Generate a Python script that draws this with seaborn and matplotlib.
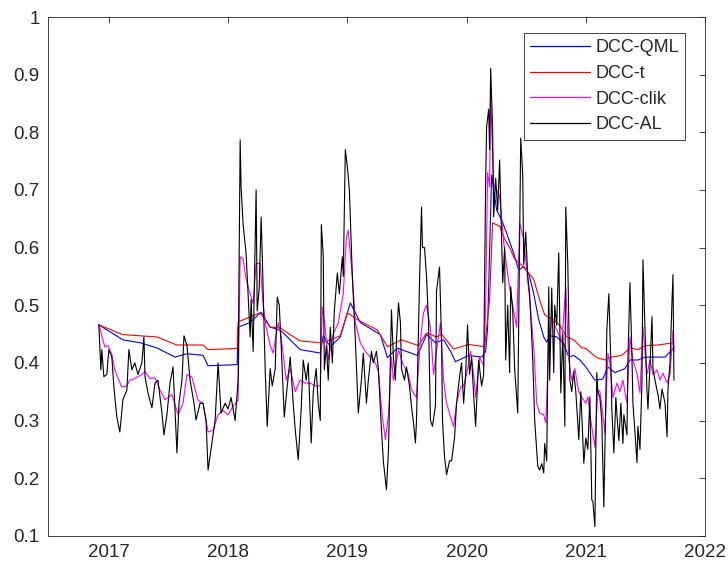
import pandas as pd
import matplotlib.pyplot as plt
import seaborn as sns

# DCC-QML
qml_year = [2016.916, 2017.118, 2017.261, 2017.403, 2017.555, 2017.655, 2017.790, 2017.832, 2018.076, 2018.084,
            2018.185, 2018.277, 2018.353, 2018.437, 2018.521, 2018.605, 2018.773, 2018.798, 2018.857, 2018.941,
            2019.025, 2019.109, 2019.277, 2019.336, 2019.420, 2019.454, 2019.588, 2019.664, 2019.739, 2019.807,
            2019.866, 2019.907, 2020.017, 2020.126, 2020.160, 2020.176, 2020.210, 2020.252, 2020.294, 2020.336,
            2020.395, 2020.437, 2020.479, 2020.521, 2020.563, 2020.605, 2020.647, 2020.672, 2020.697, 2020.756,
            2020.815, 2020.857, 2020.899, 2020.950, 2021.000, 2021.076, 2021.143, 2021.185, 2021.244, 2021.328,
            2021.370, 2021.437, 2021.496, 2021.580, 2021.664, 2021.739]
qml_val = [0.466, 0.440, 0.435, 0.426, 0.410, 0.416, 0.413, 0.395, 0.397, 0.462,
           0.470, 0.488, 0.462, 0.457, 0.440, 0.423, 0.417, 0.447, 0.428, 0.445,
           0.504, 0.470, 0.449, 0.409, 0.426, 0.423, 0.413, 0.449, 0.435, 0.440,
           0.420, 0.402, 0.413, 0.410, 0.420, 0.460, 0.726, 0.665, 0.648, 0.625,
           0.590, 0.561, 0.567, 0.555, 0.520, 0.475, 0.445, 0.436, 0.447, 0.445,
           0.433, 0.410, 0.413, 0.405, 0.393, 0.370, 0.372, 0.393, 0.383, 0.390,
           0.405, 0.405, 0.410, 0.410, 0.410, 0.426]

# DCC-t
t_year = [2016.916, 2017.118, 2017.403, 2017.571, 2017.790, 2017.832, 2018.076, 2018.084, 2018.269, 2018.353,
          2018.437, 2018.521, 2018.605, 2018.773, 2018.857, 2018.941, 2019.000, 2019.084, 2019.252, 2019.336,
          2019.454, 2019.597, 2019.664, 2019.748, 2019.790, 2019.891, 2020.017, 2020.151, 2020.193, 2020.218,
          2020.277, 2020.319, 2020.361, 2020.403, 2020.445, 2020.504, 2020.563, 2020.613, 2020.655, 2020.731,
          2020.781, 2020.840, 2020.899, 2020.966, 2021.000, 2021.092, 2021.160, 2021.218, 2021.302, 2021.370,
          2021.437, 2021.496, 2021.605, 2021.739]
t_val = [0.466, 0.449, 0.445, 0.431, 0.431, 0.423, 0.425, 0.471, 0.487, 0.462,
         0.461, 0.449, 0.438, 0.435, 0.440, 0.447, 0.487, 0.475, 0.457, 0.428,
         0.440, 0.430, 0.452, 0.445, 0.450, 0.424, 0.432, 0.428, 0.509, 0.643,
         0.637, 0.615, 0.600, 0.580, 0.573, 0.560, 0.545, 0.509, 0.483, 0.475,
         0.465, 0.445, 0.440, 0.426, 0.425, 0.409, 0.405, 0.410, 0.413, 0.426,
         0.423, 0.430, 0.431, 0.435]

# DCC-clik
clik_year = [2016.916, 2016.966, 2016.992, 2017.025, 2017.050, 2017.076, 2017.109, 2017.151, 2017.176, 2017.218,
             2017.277, 2017.303, 2017.345, 2017.387, 2017.429, 2017.471, 2017.529, 2017.580, 2017.622, 2017.655,
             2017.697, 2017.748, 2017.790, 2017.832, 2017.874, 2017.916, 2017.958, 2018.000, 2018.042, 2018.084,
             2018.101, 2018.126, 2018.151, 2018.185, 2018.210, 2018.235, 2018.269, 2018.294, 2018.319, 2018.353,
             2018.378, 2018.420, 2018.445, 2018.487, 2018.521, 2018.563, 2018.605, 2018.647, 2018.689, 2018.731,
             2018.773, 2018.790, 2018.815, 2018.840, 2018.882, 2018.924, 2018.966, 2018.992, 2019.008, 2019.042,
             2019.067, 2019.109, 2019.151, 2019.193, 2019.235, 2019.260, 2019.294, 2019.319, 2019.345, 2019.370,
             2019.386, 2019.429, 2019.471, 2019.513, 2019.538, 2019.580, 2019.613, 2019.639, 2019.664, 2019.697,
             2019.723, 2019.748, 2019.781, 2019.807, 2019.832, 2019.866, 2019.891, 2019.916, 2019.950, 2019.975,
             2020.000, 2020.034, 2020.059, 2020.076, 2020.109, 2020.143, 2020.160, 2020.176, 2020.193, 2020.202,
             2020.227, 2020.252, 2020.277, 2020.311, 2020.336, 2020.361, 2020.395, 2020.420, 2020.445, 2020.479,
             2020.504, 2020.529, 2020.563, 2020.588, 2020.613, 2020.647, 2020.664, 2020.689, 2020.714, 2020.739,
             2020.773, 2020.798, 2020.832, 2020.857, 2020.882, 2020.908, 2020.941, 2020.966, 2021.000, 2021.017,
             2021.042, 2021.076, 2021.101, 2021.118, 2021.143, 2021.160, 2021.185, 2021.202, 2021.227, 2021.261,
             2021.286, 2021.311, 2021.345, 2021.370, 2021.395, 2021.429, 2021.454, 2021.479, 2021.513, 2021.538,
             2021.563, 2021.597, 2021.622, 2021.647, 2021.681, 2021.706, 2021.731, 2021.739]
clik_val = [0.466, 0.428, 0.430, 0.415, 0.388, 0.374, 0.358, 0.360, 0.370, 0.373,
            0.380, 0.385, 0.373, 0.374, 0.353, 0.336, 0.345, 0.310, 0.330, 0.380,
            0.375, 0.335, 0.330, 0.280, 0.283, 0.310, 0.317, 0.310, 0.325, 0.335,
            0.584, 0.580, 0.545, 0.520, 0.503, 0.572, 0.573, 0.500, 0.462, 0.430,
            0.417, 0.470, 0.445, 0.370, 0.390, 0.350, 0.370, 0.365, 0.365, 0.360,
            0.360, 0.497, 0.460, 0.405, 0.450, 0.469, 0.520, 0.618, 0.630, 0.550,
            0.470, 0.435, 0.420, 0.410, 0.400, 0.385, 0.306, 0.267, 0.310, 0.410,
            0.370, 0.423, 0.395, 0.380, 0.353, 0.340, 0.440, 0.487, 0.500, 0.460,
            0.380, 0.420, 0.470, 0.370, 0.330, 0.306, 0.290, 0.330, 0.358, 0.360,
            0.380, 0.420, 0.380, 0.340, 0.410, 0.395, 0.500, 0.730, 0.705, 0.861,
            0.710, 0.700, 0.690, 0.610, 0.567, 0.530, 0.490, 0.462, 0.643, 0.615,
            0.560, 0.510, 0.428, 0.330, 0.313, 0.310, 0.296, 0.430, 0.480, 0.465,
            0.450, 0.435, 0.532, 0.405, 0.370, 0.390, 0.350, 0.340, 0.330, 0.341,
            0.300, 0.254, 0.353, 0.350, 0.310, 0.278, 0.417, 0.400, 0.340, 0.365,
            0.350, 0.370, 0.330, 0.445, 0.405, 0.382, 0.348, 0.462, 0.380, 0.405,
            0.380, 0.388, 0.370, 0.382, 0.365, 0.380, 0.457, 0.420]

# DCC-AL
al_year = [2016.916, 2016.933, 2016.941, 2016.958, 2016.983, 2017.000, 2017.025, 2017.042, 2017.067, 2017.092,
           2017.118, 2017.151, 2017.168, 2017.193, 2017.218, 2017.244, 2017.277, 2017.294, 2017.303, 2017.328,
           2017.361, 2017.387, 2017.412, 2017.445, 2017.462, 2017.487, 2017.513, 2017.538, 2017.571, 2017.588,
           2017.613, 2017.630, 2017.655, 2017.681, 2017.714, 2017.731, 2017.765, 2017.790, 2017.815, 2017.832,
           2017.857, 2017.891, 2017.916, 2017.941, 2017.975, 2018.000, 2018.025, 2018.059, 2018.084, 2018.101,
           2018.109, 2018.126, 2018.151, 2018.185, 2018.193, 2018.210, 2018.235, 2018.244, 2018.261, 2018.277,
           2018.286, 2018.311, 2018.328, 2018.353, 2018.370, 2018.395, 2018.412, 2018.429, 2018.445, 2018.471,
           2018.496, 2018.521, 2018.546, 2018.563, 2018.588, 2018.613, 2018.630, 2018.655, 2018.672, 2018.697,
           2018.714, 2018.739, 2018.756, 2018.773, 2018.782, 2018.798, 2018.807, 2018.824, 2018.840, 2018.857,
           2018.874, 2018.891, 2018.916, 2018.933, 2018.958, 2018.966, 2018.983, 2019.000, 2019.017, 2019.042,
           2019.067, 2019.092, 2019.118, 2019.134, 2019.160, 2019.176, 2019.202, 2019.218, 2019.244, 2019.260,
           2019.286, 2019.303, 2019.328, 2019.345, 2019.361, 2019.370, 2019.386, 2019.403, 2019.412, 2019.429,
           2019.445, 2019.454, 2019.479, 2019.496, 2019.521, 2019.538, 2019.555, 2019.571, 2019.580, 2019.605,
           2019.622, 2019.630, 2019.647, 2019.664, 2019.681, 2019.697, 2019.714, 2019.739, 2019.748, 2019.773,
           2019.790, 2019.798, 2019.815, 2019.832, 2019.857, 2019.874, 2019.899, 2019.916, 2019.941, 2019.958,
           2019.975, 2019.992, 2020.008, 2020.025, 2020.042, 2020.059, 2020.076, 2020.084, 2020.101, 2020.126,
           2020.143, 2020.160, 2020.168, 2020.185, 2020.193, 2020.202, 2020.218, 2020.227, 2020.244, 2020.261,
           2020.277, 2020.286, 2020.303, 2020.319, 2020.328, 2020.345, 2020.361, 2020.370, 2020.387, 2020.403,
           2020.429, 2020.437, 2020.454, 2020.471, 2020.479, 2020.496, 2020.513, 2020.529, 2020.555, 2020.571,
           2020.597, 2020.613, 2020.630, 2020.647, 2020.655, 2020.672, 2020.689, 2020.697, 2020.714, 2020.731,
           2020.739, 2020.756, 2020.773, 2020.790, 2020.807, 2020.824, 2020.832, 2020.849, 2020.866, 2020.882,
           2020.899, 2020.916, 2020.941, 2020.958, 2020.983, 2021.000, 2021.017, 2021.034, 2021.050, 2021.059,
           2021.076, 2021.092, 2021.101, 2021.118, 2021.134, 2021.151, 2021.168, 2021.176, 2021.193, 2021.210,
           2021.218, 2021.235, 2021.252, 2021.261, 2021.277, 2021.294, 2021.311, 2021.319, 2021.345, 2021.353,
           2021.370, 2021.387, 2021.395, 2021.412, 2021.429, 2021.437, 2021.454, 2021.471, 2021.479, 2021.496,
           2021.513, 2021.521, 2021.538, 2021.555, 2021.563, 2021.580, 2021.605, 2021.622, 2021.639, 2021.664,
           2021.681, 2021.689, 2021.706, 2021.723, 2021.731, 2021.739]
al_val = [0.466, 0.388, 0.423, 0.376, 0.380, 0.423, 0.410, 0.358, 0.306, 0.280,
          0.336, 0.353, 0.423, 0.388, 0.400, 0.380, 0.400, 0.445, 0.376, 0.348,
          0.322, 0.365, 0.370, 0.313, 0.275, 0.310, 0.365, 0.393, 0.244, 0.330,
          0.370, 0.447, 0.430, 0.370, 0.330, 0.301, 0.330, 0.330, 0.300, 0.214,
          0.250, 0.300, 0.400, 0.313, 0.330, 0.320, 0.340, 0.300, 0.370, 0.787,
          0.705, 0.640, 0.590, 0.445, 0.510, 0.420, 0.700, 0.490, 0.530, 0.653,
          0.590, 0.388, 0.290, 0.390, 0.360, 0.390, 0.514, 0.500, 0.430, 0.306,
          0.360, 0.410, 0.330, 0.284, 0.232, 0.320, 0.405, 0.370, 0.400, 0.261,
          0.350, 0.390, 0.330, 0.300, 0.640, 0.585, 0.388, 0.430, 0.370, 0.462,
          0.400, 0.490, 0.556, 0.520, 0.584, 0.550, 0.770, 0.740, 0.700, 0.550,
          0.440, 0.313, 0.370, 0.417, 0.330, 0.370, 0.420, 0.400, 0.420, 0.390,
          0.284, 0.227, 0.180, 0.249, 0.405, 0.492, 0.410, 0.370, 0.440, 0.504,
          0.470, 0.390, 0.370, 0.393, 0.360, 0.324, 0.296, 0.261, 0.300, 0.539,
          0.670, 0.600, 0.600, 0.550, 0.470, 0.300, 0.290, 0.326, 0.525, 0.566,
          0.440, 0.300, 0.237, 0.206, 0.230, 0.230, 0.270, 0.330, 0.376, 0.400,
          0.330, 0.380, 0.466, 0.380, 0.410, 0.345, 0.290, 0.330, 0.405, 0.360,
          0.380, 0.717, 0.810, 0.840, 0.770, 0.911, 0.810, 0.653, 0.720, 0.665,
          0.752, 0.680, 0.539, 0.600, 0.405, 0.500, 0.383, 0.532, 0.490, 0.390,
          0.313, 0.465, 0.790, 0.725, 0.570, 0.627, 0.550, 0.520, 0.405, 0.301,
          0.220, 0.214, 0.225, 0.209, 0.260, 0.230, 0.532, 0.370, 0.530, 0.383,
          0.500, 0.465, 0.591, 0.348, 0.450, 0.290, 0.670, 0.570, 0.370, 0.350,
          0.385, 0.350, 0.267, 0.350, 0.226, 0.270, 0.250, 0.341, 0.162, 0.160,
          0.116, 0.383, 0.350, 0.340, 0.300, 0.150, 0.340, 0.457, 0.520, 0.400,
          0.320, 0.244, 0.340, 0.310, 0.265, 0.330, 0.260, 0.310, 0.275, 0.405,
          0.539, 0.410, 0.330, 0.280, 0.227, 0.290, 0.250, 0.370, 0.579, 0.460,
          0.350, 0.320, 0.395, 0.480, 0.390, 0.370, 0.345, 0.320, 0.355, 0.330,
          0.272, 0.355, 0.400, 0.509, 0.553, 0.370]

x_ticks = [2017, 2018, 2019, 2020, 2021, 2022]
y_ticks = [0.1, 0.2, 0.3, 0.4, 0.5, 0.6, 0.7, 0.8, 0.9, 1.0]
y_labels = ['0.1', '0.2', '0.3', '0.4', '0.5', '0.6', '0.7', '0.8', '0.9', '1']

models = ['DCC-QML', 'DCC-t', 'DCC-clik', 'DCC-AL']
colors = ['#0000ff', '#ff0000', '#ff00ff', '#000000']
series = [(qml_year, qml_val), (t_year, t_val), (clik_year, clik_val), (al_year, al_val)]

frames = []
for name, (yr, v) in zip(models, series):
    frames.append(pd.DataFrame({'year': yr, 'value': v, 'model': name}))
df = pd.concat(frames, ignore_index=True)

sns.set_style('white')
plt.rcParams['font.family'] = ['Liberation Sans', 'DejaVu Sans']

fig = plt.figure(figsize=(7.28, 5.67), dpi=100)
ax = fig.add_axes([0.066, 0.055, 0.9025, 0.915])
sns.lineplot(data=df, x='year', y='value', hue='model', hue_order=models,
             palette=dict(zip(models, colors)), estimator=None, sort=False,
             linewidth=0.8, ax=ax)

ax.set_xlim(2016.49, 2022)
ax.set_ylim(0.1, 1)
ax.set_xticks(x_ticks)
ax.set_xticklabels([str(x) for x in x_ticks])
ax.set_yticks(y_ticks)
ax.set_yticklabels(y_labels)
ax.set_xlabel('')
ax.set_ylabel('')
ax.tick_params(direction='in', top=True, right=True, length=4, width=0.6,
               colors='#262626', labelsize=13.5, pad=6)
for s in ax.spines.values():
    s.set_visible(True)
    s.set_color('#262626')
    s.set_linewidth(0.6)

leg = ax.legend(loc='upper right', bbox_to_anchor=(0.970, 0.969), borderaxespad=0,
                fontsize=13, fancybox=False, framealpha=1, edgecolor='#262626',
                handlelength=3.3, handletextpad=0.3, labelspacing=0.48, borderpad=0.35)
leg.get_frame().set_linewidth(0.6)
for line in leg.get_lines():
    line.set_linewidth(0.9)

fig.savefig('out.png', dpi=100)
